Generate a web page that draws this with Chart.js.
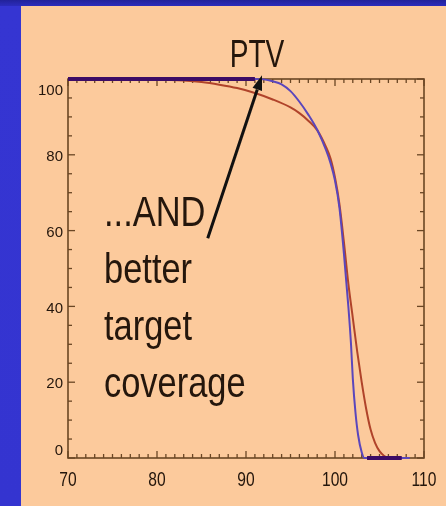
<!DOCTYPE html>
<html>
<head>
<meta charset="utf-8">
<script src="https://cdn.jsdelivr.net/npm/chart.js@4"></script>
<style>
  html, body { margin: 0; padding: 0; }
  body {
    width: 446px; height: 506px; overflow: hidden; position: relative;
    background: linear-gradient(#22229a 0px, #2c2cbc 6px, #3535d2 6px, #3434d0 100%);
  }
  #panel {
    position: absolute; left: 21px; top: 6px; width: 425px; height: 500px;
    background: #fcca9c;
  }
  canvas { display: block; }
</style>
</head>
<body>
<div id="panel"><canvas id="dvh" width="425" height="500"></canvas></div>
<script>
// Dose-volume histogram for the PTV (dose in %, volume in %)
const doseRed = [70, 75, 80, 83, 85, 87, 89, 91, 93, 95, 96, 97, 98, 99, 99.5, 100, 100.5, 101, 101.5, 102, 102.5, 103, 103.5, 104, 104.5, 105, 105.5, 106];
const volRed  = [100, 100, 99.9, 99.6, 99.2, 98.5, 97.6, 96.3, 94.6, 92.5, 91, 89, 86.5, 82, 79, 74, 67, 57, 46, 37, 28, 20, 13, 7.5, 4, 1.8, 0.6, 0];

const doseBlue = [70, 90, 91, 92, 93, 94, 95, 96, 97, 98, 99, 99.5, 100, 100.5, 101, 101.5, 101.8, 102, 102.3, 102.6, 103, 103.3, 104, 108.4];
const volBlue  = [100, 100, 100, 99.9, 99.4, 98.6, 96.8, 94, 90.6, 86.6, 81.2, 77.8, 73.2, 66, 54, 40, 30, 21, 12, 6, 1.5, 0, 0, 0];

// stretches where both histograms coincide (drawn heavier)
const overlapDose = [70, 91, 97, 103.6, 107.5];
const overlapVol  = [100, 100, null, 0, 0];

const xTicks = [70, 80, 90, 100, 110];
const yTicks = [0, 20, 40, 60, 80, 100];
const xMinorStep = 1;
const yMinorStep = 5;

const panelTitle = 'PTV';
const noteLines = ['...AND', 'better', 'target', 'coverage'];
const arrowFrom = [85.7, 58];
const arrowTo = [91.8, 101];

const SANS = "'Liberation Sans', Arial, sans-serif";
const AXIS = '#6a4624';
const INK = '#24160c';

const toPoints = (xs, ys) => xs.map((v, i) => ({ x: v, y: ys[i] }));

// text squeezed horizontally to give a condensed face
function narrowText(ctx, text, x, y, size, squeeze, align) {
  ctx.save();
  ctx.font = `${size}px ${SANS}`;
  ctx.textAlign = align;
  ctx.textBaseline = 'alphabetic';
  ctx.translate(x, y);
  ctx.scale(squeeze, 1);
  ctx.fillText(text, 0, 0);
  ctx.restore();
}

const decorations = {
  id: 'decorations',
  beforeDatasetsDraw(chart) {
    const { ctx, chartArea: a, scales: { x, y } } = chart;
    ctx.save();
    ctx.strokeStyle = AXIS;
    ctx.lineWidth = 1.6;
    ctx.strokeRect(a.left, a.top, a.right - a.left, a.bottom - a.top);
    ctx.lineWidth = 1.3;
    const seg = (x1, y1, x2, y2) => { ctx.beginPath(); ctx.moveTo(x1, y1); ctx.lineTo(x2, y2); ctx.stroke(); };
    for (let v = x.min; v <= x.max + 1e-9; v += xMinorStep) {
      const px = x.getPixelForValue(v);
      const len = xTicks.includes(v) ? 7 : 4;
      seg(px, a.bottom, px, a.bottom - len);
      seg(px, a.top, px, a.top + len);
    }
    for (let v = y.min; v <= y.max + 1e-9; v += yMinorStep) {
      const py = y.getPixelForValue(v);
      const len = yTicks.includes(v) ? 7 : 4;
      seg(a.left, py, a.left + len, py);
      seg(a.right, py, a.right - len, py);
    }
    // tick labels
    ctx.fillStyle = INK;
    xTicks.forEach(v => narrowText(ctx, String(v), x.getPixelForValue(v), a.bottom + 28, 20, 0.78, 'center'));
    ctx.font = `15px ${SANS}`;
    ctx.textAlign = 'right';
    ctx.textBaseline = 'middle';
    yTicks.forEach(v => {
      const py = Math.min(Math.max(y.getPixelForValue(v) + 2, a.top + 12), a.bottom - 7);
      ctx.fillText(String(v), a.left - 5, py);
    });
    ctx.restore();
  },
  afterDatasetsDraw(chart) {
    const { ctx, chartArea: a, scales: { x, y } } = chart;
    ctx.save();
    ctx.fillStyle = INK;
    narrowText(ctx, panelTitle, (a.left + a.right) / 2 + 11, a.top - 12, 38, 0.74, 'center');
    noteLines.forEach((t, i) => narrowText(ctx, t, a.left + 36, a.top + 147 + i * 57, 42, 0.82, 'left'));
    // arrow
    const x1 = x.getPixelForValue(arrowFrom[0]), y1 = y.getPixelForValue(arrowFrom[1]);
    const x2 = x.getPixelForValue(arrowTo[0]), y2 = y.getPixelForValue(arrowTo[1]);
    const ang = Math.atan2(y2 - y1, x2 - x1);
    const head = 15, half = 5;
    const bx = x2 - head * Math.cos(ang), by = y2 - head * Math.sin(ang);
    ctx.strokeStyle = '#111';
    ctx.lineWidth = 3;
    ctx.beginPath(); ctx.moveTo(x1, y1); ctx.lineTo(bx, by); ctx.stroke();
    ctx.beginPath();
    ctx.moveTo(x2, y2);
    ctx.lineTo(bx + half * Math.sin(ang), by - half * Math.cos(ang));
    ctx.lineTo(bx - half * Math.sin(ang), by + half * Math.cos(ang));
    ctx.closePath();
    ctx.fillStyle = '#111';
    ctx.fill();
    ctx.restore();
  }
};

new Chart(document.getElementById('dvh'), {
  type: 'line',
  data: {
    datasets: [
      {
        label: 'overlap',
        data: toPoints(overlapDose, overlapVol),
        borderColor: '#3c0c66',
        borderWidth: 4,
        pointRadius: 0,
        spanGaps: false,
        clip: false,
        order: 0
      },
      {
        label: 'Plan B',
        data: toPoints(doseBlue, volBlue),
        borderColor: '#5a46bc',
        borderWidth: 2,
        pointRadius: 0,
        cubicInterpolationMode: 'monotone',
        clip: false,
        order: 1
      },
      {
        label: 'Plan A',
        data: toPoints(doseRed, volRed),
        borderColor: '#b0432a',
        borderWidth: 2,
        pointRadius: 0,
        cubicInterpolationMode: 'monotone',
        clip: false,
        order: 2
      }
    ]
  },
  options: {
    responsive: false,
    animation: false,
    devicePixelRatio: 1,
    layout: { padding: { top: 73, right: 22, left: 0, bottom: 0 } },
    plugins: { legend: { display: false }, tooltip: { enabled: false }, title: { display: false } },
    scales: {
      x: {
        type: 'linear',
        min: 70, max: 110,
        afterFit(s) { s.height = 48; },
        grid: { display: false, drawTicks: false },
        border: { display: false },
        ticks: { display: false }
      },
      y: {
        type: 'linear',
        min: 0, max: 100,
        afterFit(s) { s.width = 47; },
        grid: { display: false, drawTicks: false },
        border: { display: false },
        ticks: { display: false }
      }
    }
  },
  plugins: [decorations]
});
</script>
</body>
</html>
